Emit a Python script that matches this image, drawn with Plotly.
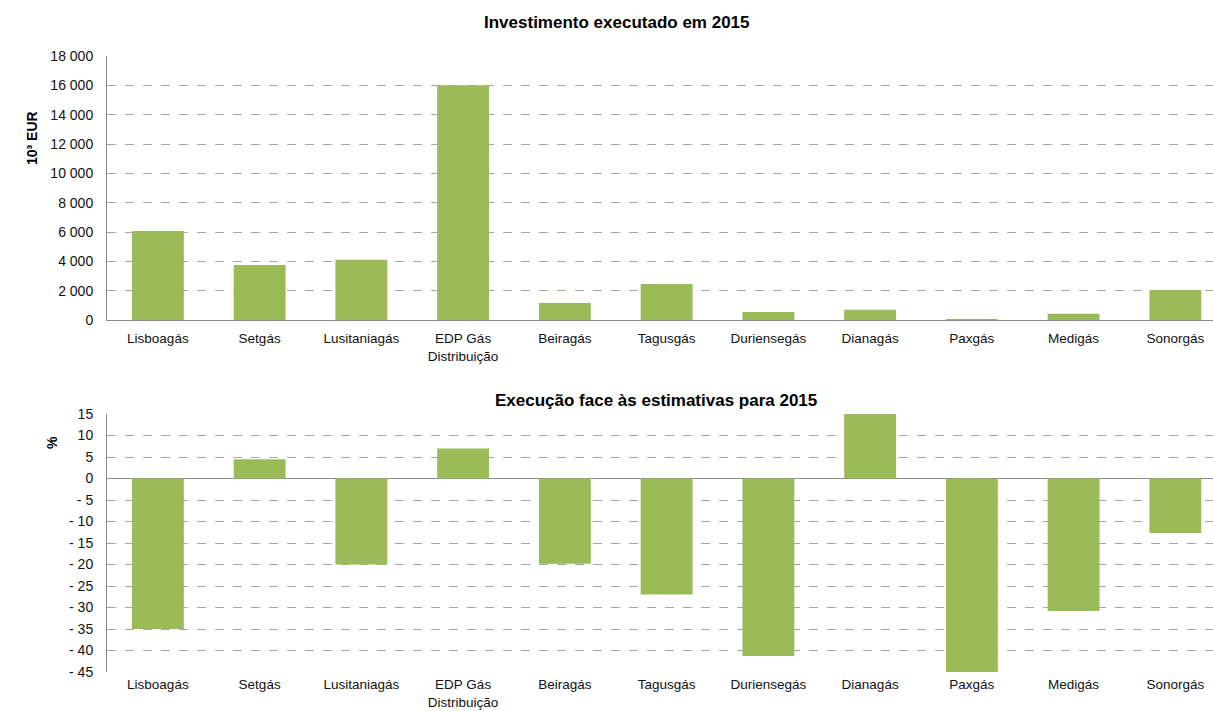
import plotly.graph_objects as go

categories = ["Lisboagás", "Setgás", "Lusitaniagás", "EDP Gás<br>Distribuição", "Beiragás",
              "Tagusgás", "Duriensegás", "Dianagás", "Paxgás", "Medigás", "Sonorgás"]
investimento = [6070, 3750, 4100, 16000, 1160, 2450, 550, 700, 60, 420, 2050]
execucao = [-35.0, 4.5, -20.0, 7.0, -19.8, -27.0, -41.3, 15.0, -45.0, -30.8, -12.7]

top_ticks = list(range(0, 18001, 2000))
top_ticktext = [f"{v:,}".replace(",", " ") for v in top_ticks]
bot_ticks = list(range(-45, 16, 5))
bot_ticktext = [("- " + str(-v)) if v < 0 else str(v) for v in bot_ticks]

green = "#9BBB59"
font = "Liberation Sans, Arial, sans-serif"
W, H = 1213, 711

fig = go.Figure()
fig.add_trace(go.Bar(x=list(range(len(categories))), y=investimento, marker_color=green,
                     marker_line_width=0, xaxis="x", yaxis="y", width=0.51))
fig.add_trace(go.Bar(x=list(range(len(categories))), y=execucao, marker_color=green,
                     marker_line_width=0, xaxis="x2", yaxis="y2", width=0.51))

def dom(ytop, ybot):
    return [(H - ybot) / H, (H - ytop) / H]

xcommon = dict(range=[-0.5, 10.37], tickmode="array", tickvals=list(range(len(categories))),
               ticktext=categories, showgrid=False, zeroline=False, ticks="outside",
               tickcolor="rgba(0,0,0,0)",
               tickfont=dict(family=font, size=13.5, color="#111"), automargin=False,
               fixedrange=True)
ycommon = dict(showgrid=True, gridcolor="#A6A6A6", griddash="dash", gridwidth=1,
               showline=True, linecolor="#8C8C8C", linewidth=1, ticks="outside",
               ticklen=10, tickcolor="rgba(0,0,0,0)",
               tickfont=dict(family=font, size=14, color="#111"), automargin=False)

def ann(text, px, py, size, angle=0):
    return dict(text=text, x=(px - 107) / (W - 107), y=(H - py) / H, xref="paper", yref="paper",
                xanchor="center", yanchor="middle", showarrow=False, textangle=angle,
                font=dict(family=font, size=size, color="#000"))

fig.update_layout(
    width=W, height=H, margin=dict(l=107, r=0, t=0, b=0),
    paper_bgcolor="white", plot_bgcolor="white", showlegend=False,
    font=dict(family=font),
    xaxis=dict(**xcommon, ticklen=6, domain=[0, 1], anchor="y", showline=True, linecolor="#8C8C8C"),
    yaxis=dict(**ycommon, domain=dom(56, 320), range=[0, 18000], tickvals=top_ticks,
               ticktext=top_ticktext, zeroline=False),
    xaxis2=dict(**xcommon, ticklen=0, domain=[0, 1], anchor="y2", showline=False),
    yaxis2=dict(**ycommon, domain=dom(414, 672), range=[-45, 15], tickvals=bot_ticks,
                ticktext=bot_ticktext, zeroline=True, zerolinecolor="#8C8C8C", zerolinewidth=1),
    annotations=[
        ann("<b>Investimento executado em 2015</b>", 617, 22, 17),
        ann("<b>Execução face às estimativas para 2015</b>", 656, 400, 17),
        ann("<b>10³ EUR</b>", 32, 138, 14, -90),
        ann("<b>%</b>", 52, 443, 14, -90),
    ],
)

fig.write_html("out.html")
